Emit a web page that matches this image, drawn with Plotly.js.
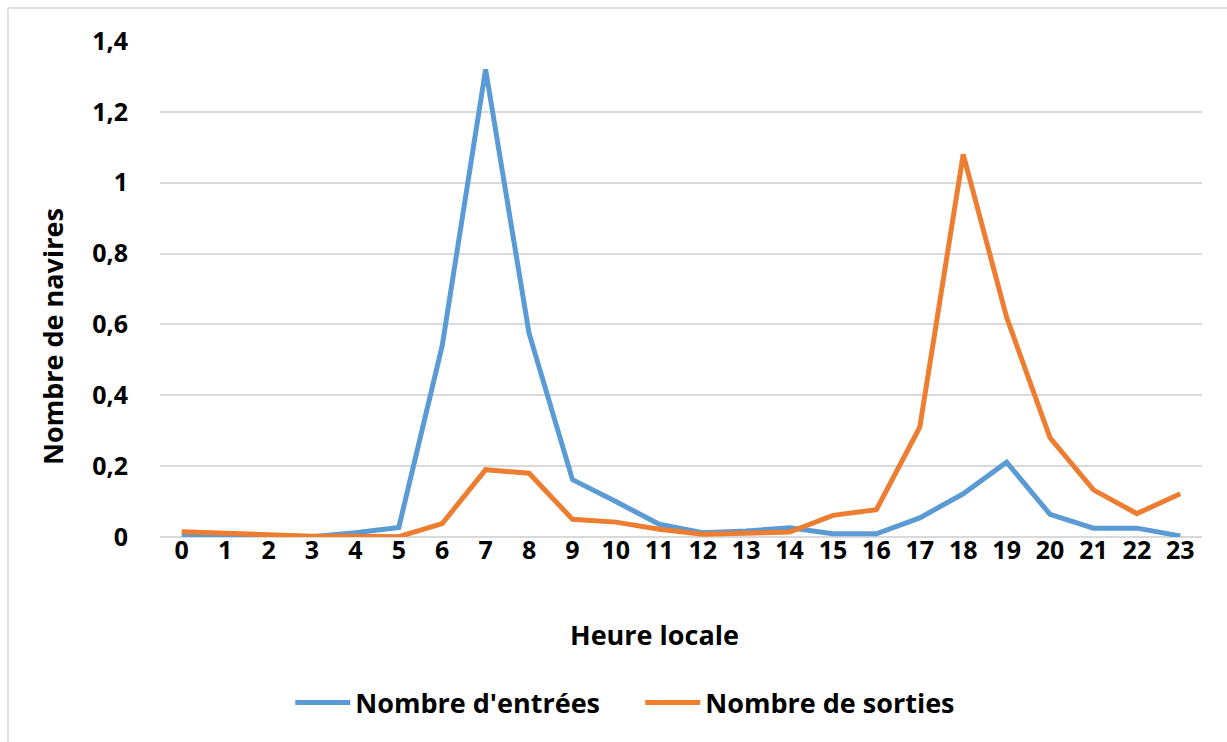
<!DOCTYPE html>
<html>
<head>
<meta charset="utf-8">
<script src="https://cdn.plot.ly/plotly-3.0.1.min.js"></script>
<style>html,body{margin:0;padding:0;background:#fff;}#chart{width:1227px;height:742px;}</style>
</head>
<body>
<div id="chart"></div>
<script>
const hours = ["0","1","2","3","4","5","6","7","8","9","10","11","12","13","14","15","16","17","18","19","20","21","22","23"];
const entrees = [0.004,0.003,0.002,0.001,0.012,0.027,0.54,1.32,0.575,0.162,0.10,0.036,0.012,0.017,0.026,0.009,0.009,0.054,0.122,0.211,0.064,0.025,0.025,0.003];
const sorties = [0.015,0.01,0.005,0.002,0.002,0.001,0.038,0.19,0.18,0.05,0.042,0.022,0.008,0.012,0.014,0.061,0.077,0.31,1.08,0.62,0.28,0.133,0.066,0.122];
const yTicks = [0,0.2,0.4,0.6,0.8,1,1.2,1.4];
const yTickLabels = ["0","0,2","0,4","0,6","0,8","1","1,2","1,4"];
const seriesNames = ["Nombre d'entrées","Nombre de sorties"];

const FONT = "'Open Sans', Lato, sans-serif";
const FS = 25;
const FT = 27;
const traces = [
  {x: hours, y: entrees, type: 'scatter', mode: 'lines', name: seriesNames[0],
   line: {color: '#5B9BD5', width: 5}},
  {x: hours, y: sorties, type: 'scatter', mode: 'lines', name: seriesNames[1],
   line: {color: '#ED7D31', width: 5}}
];
const layout = {
  width: 1227, height: 742,
  margin: {l: 160, r: 25, t: 41, b: 205},
  paper_bgcolor: '#fff', plot_bgcolor: '#fff',
  font: {family: FONT, color: '#000', size: FS},
  xaxis: {type: 'category', range: [-0.5, 23.5], showgrid: false, zeroline: false, showline: false,
    ticks: '', tickfont: {family: FONT, size: FS, weight: 'bold'}, ticklabelstandoff: -4},
  yaxis: {range: [0, 1.4], tickvals: yTicks, ticktext: yTickLabels,
    showgrid: true, gridcolor: '#D9D9D9', gridwidth: 1.5, zeroline: true, zerolinecolor: '#D9D9D9', zerolinewidth: 1.5,
    showline: false, ticks: '', tickfont: {family: FONT, size: FS, weight: 'bold'}, ticklabelstandoff: 31},
  showlegend: true,
  legend: {orientation: 'h', x: 0.125, xanchor: 'left', y: (537-703)/496, yanchor: 'middle',
    font: {family: FONT, size: FT, weight: 'bold'}, itemwidth: 55, entrywidth: 280, entrywidthmode: 'pixels',
    bgcolor: 'rgba(0,0,0,0)'},
  annotations: [
    {text: 'Heure locale', xref: 'paper', yref: 'paper', x: (654-160)/1042, y: (537-634)/496,
     showarrow: false, xanchor: 'center', yanchor: 'middle', font: {family: FONT, size: FT, weight: 'bold'}},
    {text: 'Nombre de navires', xref: 'paper', yref: 'paper', x: (52-160)/1042, y: (537-337)/496,
     showarrow: false, xanchor: 'center', yanchor: 'middle', textangle: -90, font: {family: FONT, size: FT, weight: 'bold'}}
  ],
  shapes: [
    {type: 'line', xref: 'paper', yref: 'paper', x0: (8-160)/1042, x1: (1227-160)/1042, y0: (537-8)/496, y1: (537-8)/496,
     line: {color: '#D9D9D9', width: 1.5}},
    {type: 'line', xref: 'paper', yref: 'paper', x0: (8-160)/1042, x1: (8-160)/1042, y0: (537-8)/496, y1: (537-742)/496,
     line: {color: '#D9D9D9', width: 1.5}}
  ]
};
Plotly.newPlot('chart', traces, layout, {displayModeBar: false});
</script>
</body>
</html>
